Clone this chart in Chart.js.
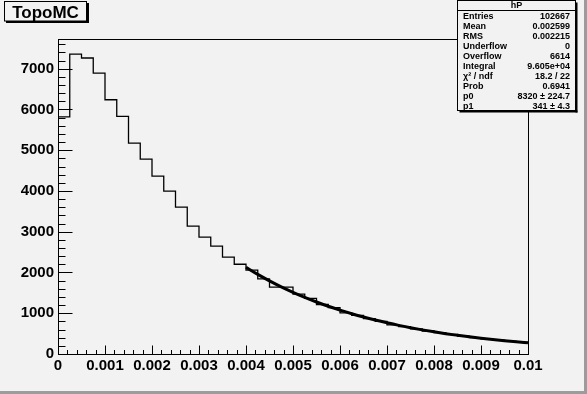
<!DOCTYPE html>
<html><head><meta charset="utf-8">
<script src="https://cdn.jsdelivr.net/npm/chart.js@4/dist/chart.umd.min.js"></script>
<style>html,body{margin:0;padding:0;background:#f2f2f2;}#wrap{width:587px;height:394px;position:relative;}</style>
</head><body><div id="wrap"><canvas id="c" width="587" height="394"></canvas></div>
<script>
// ---- data ----
const binEdges = [0,0.00025,0.0005,0.00075,0.001,0.00125,0.0015,0.00175,0.002,0.00225,
  0.0025,0.00275,0.003,0.00325,0.0035,0.00375,0.004,0.00425,0.0045,0.00475,
  0.005,0.00525,0.0055,0.00575,0.006,0.00625,0.0065,0.00675,0.007,0.00725,
  0.0075,0.00775,0.008,0.00825,0.0085,0.00875,0.009,0.00925,0.0095,0.00975,0.01];
const binCounts = [5820,7360,7264,6895,6239,5830,5175,4783,4365,3996,
  3603,3137,2866,2645,2375,2203,2060,1845,1640,1640,
  1470,1365,1215,1140,1010,950,870,800,715,670,
  615,565,525,480,440,400,370,340,312,287];
const fitX = [0.004,0.00425,0.0045,0.00475,0.005,0.00525,0.0055,0.00575,0.006,0.00625,
  0.0065,0.00675,0.007,0.00725,0.0075,0.00775,0.008,0.00825,0.0085,0.00875,
  0.009,0.00925,0.0095,0.00975,0.01];
const fitY = [2127,1953,1794,1647,1513,1389,1276,1171,1076,988,
  907,833,765,702,645,592,544,499,459,421,
  387,355,326,299,275];
const xTickValues = [0,0.001,0.002,0.003,0.004,0.005,0.006,0.007,0.008,0.009,0.01];
const xTickLabels = ['0','0.001','0.002','0.003','0.004','0.005','0.006','0.007','0.008','0.009','0.01'];
const yTickValues = [0,1000,2000,3000,4000,5000,6000,7000];
const yTickLabels = ['0','1000','2000','3000','4000','5000','6000','7000'];
const titleText = 'TopoMC';
const statsTitle = 'hP';
const statsLabels = ['Entries','Mean','RMS','Underflow','Overflow','Integral','\u03C7\u00B2 / ndf','Prob','p0','p1'];
const statsValues = ['102667','0.002599','0.002215','0','6614','9.605e+04','18.2 / 22','0.6941','8320 \u00B1 224.7','341 \u00B1 4.3'];

const FONT = '"Liberation Sans", Arial, Helvetica, sans-serif';
const BG = '#f2f2f2';

const histPoints = binCounts.map((v,i)=>({x:binEdges[i], y:v}));
histPoints.push({x:binEdges[binEdges.length-1], y:binCounts[binCounts.length-1]});
const fitPoints = fitX.map((x,i)=>({x:x, y:fitY[i]}));

const decor = {
  id:'decor',
  beforeDraw(chart){
    const ctx = chart.ctx, W = chart.width, H = chart.height;
    ctx.save();
    ctx.fillStyle = BG; ctx.fillRect(0,0,W,H);
    ctx.fillStyle = '#9c9c9c';
    ctx.fillRect(0,H-3,W,3);
    ctx.fillRect(W-3,0,3,H);
    // title box
    ctx.fillStyle = '#000';
    ctx.fillRect(6,21,83,2);
    ctx.fillRect(87,3,2,20);
    ctx.fillStyle = BG; ctx.fillRect(5,2,82,19);
    ctx.strokeStyle = '#000'; ctx.lineWidth = 1;
    ctx.strokeRect(4.5,1.5,82,19.5);
    ctx.fillStyle = '#000';
    ctx.font = 'bold 17px ' + FONT;
    ctx.textAlign = 'center'; ctx.textBaseline = 'alphabetic';
    ctx.fillText(titleText, 45.5, 17.5);
    ctx.restore();
  },
  afterDatasetsDraw(chart){
    const ctx = chart.ctx, a = chart.chartArea;
    const xs = chart.scales.x, ys = chart.scales.y;
    ctx.save();
    ctx.strokeStyle = '#000'; ctx.lineWidth = 1;
    ctx.strokeRect(Math.round(a.left)+0.5, Math.round(a.top)+0.5, Math.round(a.right-a.left), Math.round(a.bottom-a.top));
    ctx.beginPath();
    const bottom = Math.round(a.bottom)+0.5, left = Math.round(a.left)+0.5;
    for (let i=0;i<xTickValues.length;i++){
      const px = Math.round(xs.getPixelForValue(xTickValues[i]))+0.5;
      ctx.moveTo(px,bottom); ctx.lineTo(px,bottom-9);
      if (i<xTickValues.length-1){
        const step=(xTickValues[i+1]-xTickValues[i])/5;
        for (let k=1;k<5;k++){
          const mx = Math.round(xs.getPixelForValue(xTickValues[i]+k*step))+0.5;
          ctx.moveTo(mx,bottom); ctx.lineTo(mx,bottom-4.5);
        }
      }
    }
    const ystep = (yTickValues[1]-yTickValues[0])/5;
    for (let v=0; v<=ys.max+1e-9; v+=ystep){
      const py = Math.round(ys.getPixelForValue(v))+0.5;
      const major = Math.abs(v/1000 - Math.round(v/1000))<1e-6;
      ctx.moveTo(left,py); ctx.lineTo(left+(major?14:7),py);
    }
    ctx.stroke();
    ctx.restore();
  },
  afterDraw(chart){
    const ctx = chart.ctx;
    ctx.save();
    const x0=457.5, y0=0.5, w=118, h=110;
    ctx.fillStyle='#000';
    ctx.fillRect(x0+2, y0+h, w, 2);
    ctx.fillRect(x0+w, y0+2, 2, h);
    ctx.fillStyle=BG; ctx.fillRect(x0, y0, w, h);
    ctx.strokeStyle='#000'; ctx.lineWidth=1;
    ctx.strokeRect(x0,y0,w,h);
    ctx.beginPath(); ctx.moveTo(x0,10.5); ctx.lineTo(x0+w,10.5); ctx.stroke();
    ctx.fillStyle='#000';
    ctx.font='bold 9px '+FONT;
    ctx.textBaseline='middle';
    ctx.textAlign='center';
    ctx.fillText(statsTitle, x0+w/2, 5.8);
    for (let i=0;i<statsLabels.length;i++){
      const y = 16.8 + i*10;
      ctx.textAlign='left';
      ctx.fillText(statsLabels[i], 463, y);
      ctx.textAlign='right';
      ctx.fillText(statsValues[i], 570, y);
    }
    ctx.restore();
  }
};

new Chart(document.getElementById('c'), {
  type:'line',
  data:{ datasets:[
    { label:'fit', data:fitPoints, borderColor:'#000', borderWidth:3, pointRadius:0, cubicInterpolationMode:'monotone', fill:false },
    { label:'hP', data:histPoints, borderColor:'#000', borderWidth:1.3, pointRadius:0, stepped:'before', fill:false }
  ]},
  options:{
    responsive:false, animation:false, devicePixelRatio:1,
    layout:{ padding:{ left:0, right:59, top:39, bottom:0 } },
    plugins:{ legend:{display:false}, tooltip:{enabled:false}, title:{display:false} },
    scales:{
      x:{ type:'linear', min:0, max:0.01,
        grid:{display:false, drawTicks:false, tickLength:0}, border:{display:false},
        afterBuildTicks:s=>{ s.ticks = xTickValues.map(v=>({value:v})); },
        afterFit:s=>{ s.height = 40; },
        ticks:{ autoSkip:false, maxRotation:0, minRotation:0, padding:3, color:'#000',
          font:{family:FONT, weight:'bold', size:15},
          callback:(v,i)=>xTickLabels[i] } },
      y:{ type:'linear', min:0, max:7730,
        grid:{display:false, drawTicks:false, tickLength:0}, border:{display:false},
        afterBuildTicks:s=>{ s.ticks = yTickValues.map(v=>({value:v})); },
        afterFit:s=>{ s.width = 58; },
        ticks:{ autoSkip:false, padding:4, color:'#000',
          font:{family:FONT, weight:'bold', size:15},
          callback:(v,i)=>yTickLabels[i] } }
    }
  },
  plugins:[decor]
});
</script></body></html>
